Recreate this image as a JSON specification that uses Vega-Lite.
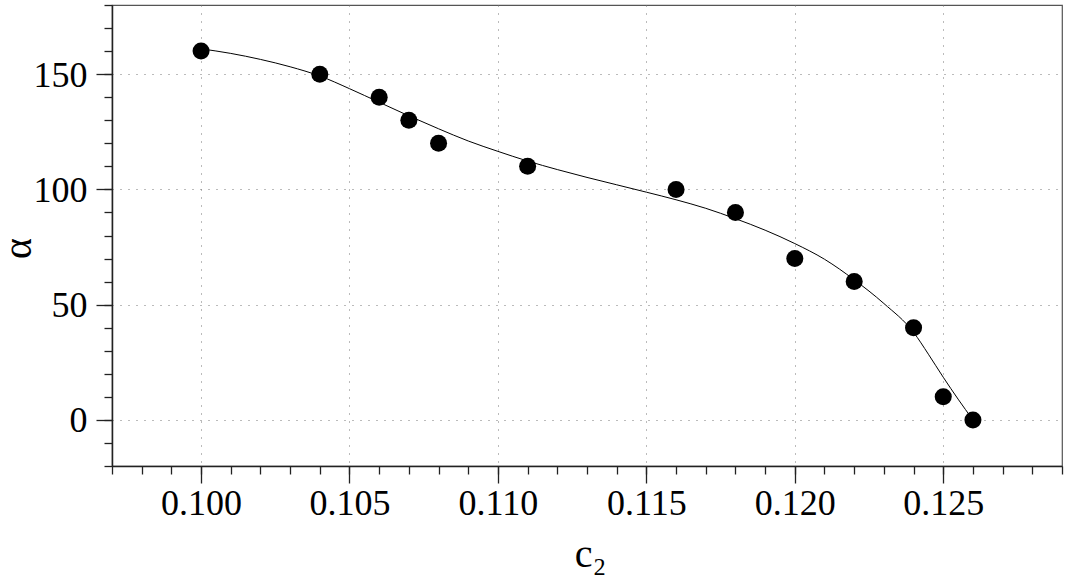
{
  "$schema": "https://vega.github.io/schema/vega-lite/v6.json",
  "width": 950,
  "height": 461,
  "autosize": {"type": "none"},
  "padding": {"left": 112, "top": 5, "right": 10, "bottom": 116},
  "background": "white",
  "config": {
    "view": {"stroke": "#555555", "strokeWidth": 1.2},
    "font": "Liberation Serif"
  },
  "datasets": {
    "points": [
      {"c2": 0.100, "alpha": 160},
      {"c2": 0.104, "alpha": 150},
      {"c2": 0.106, "alpha": 140},
      {"c2": 0.107, "alpha": 130},
      {"c2": 0.108, "alpha": 120},
      {"c2": 0.111, "alpha": 110},
      {"c2": 0.116, "alpha": 100},
      {"c2": 0.118, "alpha": 90},
      {"c2": 0.120, "alpha": 70},
      {"c2": 0.122, "alpha": 60},
      {"c2": 0.124, "alpha": 40},
      {"c2": 0.125, "alpha": 10},
      {"c2": 0.126, "alpha": 0}
    ],
    "curve": [
      {"c2": 0.100, "alpha": 161},
      {"c2": 0.101, "alpha": 159},
      {"c2": 0.102, "alpha": 156.4},
      {"c2": 0.103, "alpha": 153.2},
      {"c2": 0.104, "alpha": 149.2},
      {"c2": 0.105, "alpha": 143.7},
      {"c2": 0.106, "alpha": 137.8},
      {"c2": 0.107, "alpha": 131.9},
      {"c2": 0.108, "alpha": 126.3},
      {"c2": 0.109, "alpha": 121},
      {"c2": 0.110, "alpha": 116.5},
      {"c2": 0.111, "alpha": 112.3},
      {"c2": 0.112, "alpha": 108.6},
      {"c2": 0.113, "alpha": 105.2},
      {"c2": 0.114, "alpha": 102},
      {"c2": 0.115, "alpha": 98.8},
      {"c2": 0.116, "alpha": 95.5},
      {"c2": 0.117, "alpha": 91.8},
      {"c2": 0.118, "alpha": 87.3},
      {"c2": 0.119, "alpha": 82.3},
      {"c2": 0.120, "alpha": 76.5},
      {"c2": 0.121, "alpha": 69.7},
      {"c2": 0.122, "alpha": 60.8},
      {"c2": 0.123, "alpha": 50.5},
      {"c2": 0.124, "alpha": 38},
      {"c2": 0.1245, "alpha": 28.5},
      {"c2": 0.125, "alpha": 18.5},
      {"c2": 0.1255, "alpha": 9},
      {"c2": 0.126, "alpha": 0}
    ]
  },
  "layer": [
    {
      "data": {"name": "curve"},
      "mark": {"type": "line", "color": "black", "strokeWidth": 1, "interpolate": "monotone"},
      "encoding": {
        "x": {
          "field": "c2", "type": "quantitative",
          "scale": {"domain": [0.097, 0.129], "nice": false, "zero": false},
          "axis": {
            "orient": "bottom",
            "values": [0.100, 0.105, 0.110, 0.115, 0.120, 0.125],
            "format": ".3f",
            "labelFont": "Liberation Serif", "labelFontSize": 36, "labelColor": "black",
            "labelBaseline": "alphabetic", "labelPadding": 31, "labelFlush": false, "labelOverlap": false,
            "tickSize": 17, "tickWidth": 1.3, "tickColor": "#222222",
            "domainColor": "#222222", "domainWidth": 1.5,
            "grid": true, "gridDash": [1, 7], "gridColor": "#777777", "gridWidth": 1,
            "title": "c₂", "titleFont": "Liberation Serif", "titleFontSize": 40, "titleFontWeight": "normal",
            "titleColor": "black", "titleX": 478, "titleY": 100, "titleBaseline": "alphabetic", "titleAlign": "center"
          }
        },
        "y": {
          "field": "alpha", "type": "quantitative",
          "scale": {"domain": [-20, 180], "nice": false, "zero": false},
          "axis": {
            "orient": "left",
            "values": [0, 50, 100, 150],
            "labelFont": "Liberation Serif", "labelFontSize": 36, "labelColor": "black",
            "labelBaseline": "alphabetic", "labelOffset": 12, "labelPadding": 9, "labelOverlap": false,
            "tickSize": 16, "tickWidth": 1.3, "tickColor": "#222222",
            "domainColor": "#222222", "domainWidth": 1.5,
            "grid": true, "gridDash": [1, 7], "gridColor": "#777777", "gridWidth": 1,
            "title": "α", "titleFont": "Liberation Serif", "titleFontSize": 40, "titleFontWeight": "normal",
            "titleColor": "black", "titleX": -82, "titleY": 243, "titleBaseline": "alphabetic", "titleAlign": "center", "titleAngle": 270
          }
        }
      }
    },
    {
      "data": {"name": "points"},
      "mark": {"type": "point", "filled": true, "color": "black", "opacity": 1, "size": 290},
      "encoding": {
        "x": {
          "field": "c2", "type": "quantitative",
          "scale": {"domain": [0.097, 0.129], "nice": false, "zero": false},
          "axis": {
            "orient": "bottom",
            "values": [0.097, 0.098, 0.099, 0.100, 0.101, 0.102, 0.103, 0.104, 0.105, 0.106, 0.107, 0.108, 0.109, 0.110, 0.111, 0.112, 0.113, 0.114, 0.115, 0.116, 0.117, 0.118, 0.119, 0.120, 0.121, 0.122, 0.123, 0.124, 0.125, 0.126, 0.127, 0.128, 0.129],
            "labels": false, "grid": false, "domain": false,
            "tickSize": 8, "tickWidth": 1.3, "tickColor": "#222222",
            "title": null
          }
        },
        "y": {
          "field": "alpha", "type": "quantitative",
          "scale": {"domain": [-20, 180], "nice": false, "zero": false},
          "axis": {
            "orient": "left",
            "values": [-20, -10, 0, 10, 20, 30, 40, 50, 60, 70, 80, 90, 100, 110, 120, 130, 140, 150, 160, 170, 180],
            "labels": false, "grid": false, "domain": false,
            "tickSize": 8, "tickWidth": 1.3, "tickColor": "#222222",
            "title": null
          }
        }
      }
    }
  ],
  "resolve": {"axis": {"x": "independent", "y": "independent"}}
}
